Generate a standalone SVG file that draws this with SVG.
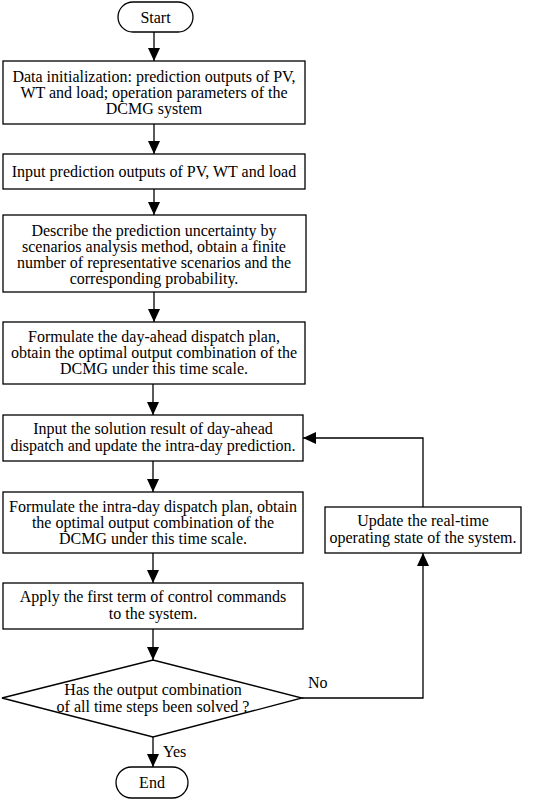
<svg xmlns="http://www.w3.org/2000/svg" width="533" height="800" viewBox="0 0 533 800">
<defs>
<marker id="ah" markerWidth="13" markerHeight="12" viewBox="0 0 13 12" refX="13" refY="6" orient="auto" markerUnits="userSpaceOnUse">
<path d="M0,0 L13,6 L0,12 Z" fill="#000"/>
</marker>
</defs>
<style>
.n{fill:#fff;stroke:#000;stroke-width:1.3}
.t{font-family:"Liberation Serif","Times New Roman",serif;font-size:16px;fill:#000;text-anchor:middle}
.l{font-family:"Liberation Serif","Times New Roman",serif;font-size:16px;fill:#000}
.c{fill:none;stroke:#000;stroke-width:1.3;marker-end:url(#ah)}
</style>
<rect width="533" height="800" fill="#fff"/>
<g id="connectors">
<path class="c" d="M154,32 V61"/>
<path class="c" d="M154,124 V154"/>
<path class="c" d="M154,189 V215"/>
<path class="c" d="M154,292 V322"/>
<path class="c" d="M153,384 V415"/>
<path class="c" d="M153,461 V492"/>
<path class="c" d="M153,553 V583"/>
<path class="c" d="M153,629 V660"/>
<path class="c" d="M153,737 V767"/>
<path class="c" d="M302,698 H423 V553"/>
<path class="c" d="M423,507 V438 H303"/>
<text class="l" x="308" y="688">No</text>
<text class="l" x="163" y="757">Yes</text>
</g>
<g id="start">
<rect class="n" x="118" y="2" width="75" height="30" rx="15"/>
<text class="t" x="155.500" y="23">Start</text>
</g>
<g id="init">
<rect class="n" x="3" y="61" width="302" height="63"/>
<text class="t" x="154" y="82">Data initialization: prediction outputs of PV,</text>
<text class="t" x="154" y="98">WT and load; operation parameters of the</text>
<text class="t" x="154" y="114">DCMG system</text>
</g>
<g id="input">
<rect class="n" x="3" y="154" width="302" height="35"/>
<text class="t" x="154" y="177">Input prediction outputs of PV, WT and load</text>
</g>
<g id="scenarios">
<rect class="n" x="3" y="215" width="303" height="77"/>
<text class="t" x="154" y="236">Describe the prediction uncertainty by</text>
<text class="t" x="154" y="252">scenarios analysis method, obtain a finite</text>
<text class="t" x="154" y="268">number of representative scenarios and the</text>
<text class="t" x="154" y="284">corresponding probability.</text>
</g>
<g id="dayahead">
<rect class="n" x="3" y="322" width="302" height="62"/>
<text class="t" x="154" y="342">Formulate the day-ahead dispatch plan,</text>
<text class="t" x="154" y="358">obtain the optimal output combination of the</text>
<text class="t" x="154" y="374">DCMG under this time scale.</text>
</g>
<g id="update_pred">
<rect class="n" x="3" y="415" width="300" height="46"/>
<text class="t" x="153" y="434">Input the solution result of day-ahead</text>
<text class="t" x="153" y="451">dispatch and update the intra-day prediction.</text>
</g>
<g id="intraday">
<rect class="n" x="3" y="492" width="300" height="61"/>
<text class="t" x="153" y="512">Formulate the intra-day dispatch plan, obtain</text>
<text class="t" x="153" y="528">the optimal output combination of the</text>
<text class="t" x="153" y="544">DCMG under this time scale.</text>
</g>
<g id="apply">
<rect class="n" x="3" y="583" width="300" height="46"/>
<text class="t" x="153" y="602">Apply the first term of control commands</text>
<text class="t" x="153" y="619">to the system.</text>
</g>
<g id="decision">
<path class="n" d="M2,698 L153,660 L302,698 L153,737 Z"/>
<text class="t" x="153" y="695">Has the output combination</text>
<text class="t" x="153" y="712">of all time steps been solved ?</text>
</g>
<g id="realtime">
<rect class="n" x="325" y="507" width="196" height="46"/>
<text class="t" x="423" y="526">Update the real-time</text>
<text class="t" x="423" y="543">operating state of the system.</text>
</g>
<g id="end">
<rect class="n" x="116" y="767" width="72" height="31" rx="15.500"/>
<text class="t" x="152" y="788">End</text>
</g>
</svg>
